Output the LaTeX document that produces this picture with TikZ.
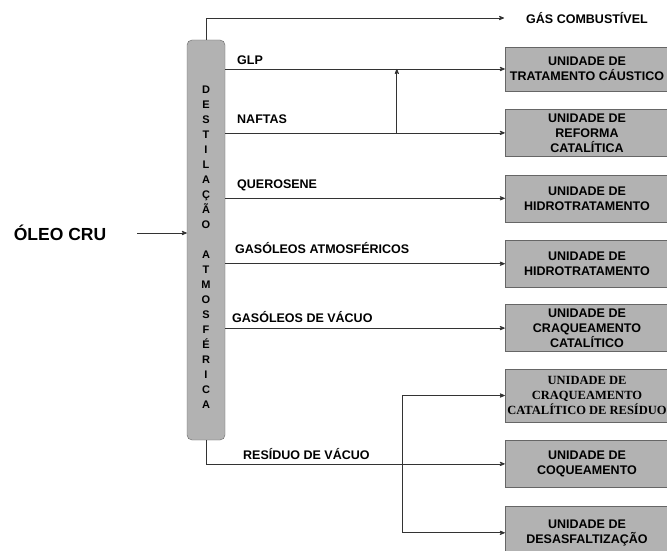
\documentclass[tikz,border=0pt]{standalone}
\usepackage{fontspec}
\setmainfont{Liberation Sans}
\newfontfamily\unitserif{Liberation Serif}
\usepackage{tikz}
\usetikzlibrary{arrows}
\usetikzlibrary{positioning}

\begin{document}
\begin{tikzpicture}[x=1pt,y=-1pt,>=stealth',node distance=18pt,
  unit node/.style={draw=black!60,fill=black!30,minimum width=164pt,minimum height=47pt,inner sep=0pt,align=center,font=\fontsize{12.5}{15}\selectfont\bfseries},
  column node/.style={draw=black!60,fill=black!30,rounded corners=5pt,minimum width=38pt,minimum height=400pt,inner sep=0pt},
  flow label/.style={anchor=base west,inner sep=0pt,font=\fontsize{12.5}{15}\selectfont\bfseries},
  flow/.style={->,draw=black!80,line width=0.8pt}]

  \clip (0,0) rectangle (667,551);

  \node[column node] (col) at (206,240) {};
  \node[inner sep=0pt,align=center,font=\fontsize{11}{15}\selectfont\bfseries] (colname) at (206,247)
    {D\\E\\S\\T\\I\\L\\A\\Ç\\Ã\\O\\[15pt]A\\T\\M\\O\\S\\F\\É\\R\\I\\C\\A};

  \node[inner sep=0pt,font=\fontsize{17.5}{20}\selectfont\bfseries] (oleo) at (60,233) {ÓLEO CRU};
  \node[inner sep=0pt,font=\fontsize{12.5}{15}\selectfont\bfseries] (gas) at (587,18) {GÁS COMBUSTÍVEL};

  \node[unit node,minimum height=44pt] (b1) at (587,69) {UNIDADE DE\\TRATAMENTO CÁUSTICO};
  \node[unit node] (b2) [below=of b1] {UNIDADE DE\\REFORMA\\CATALÍTICA};
  \node[unit node] (b3) [below=of b2] {UNIDADE DE\\HIDROTRATAMENTO};
  \node[unit node] (b4) [below=of b3] {UNIDADE DE\\HIDROTRATAMENTO};
  \node[unit node] (b5) [below=17pt of b4] {UNIDADE DE\\CRAQUEAMENTO\\CATALÍTICO};
  \node[unit node,minimum height=53pt,font=\fontsize{12.5}{15}\selectfont\bfseries\unitserif] (b6) [below=17pt of b5] {UNIDADE DE\\CRAQUEAMENTO\\CATALÍTICO DE RESÍDUO};
  \node[unit node] (b7) [below=of b6] {UNIDADE DE\\COQUEAMENTO};
  \node[unit node,minimum height=54pt] (b8) [below=of b7] {UNIDADE DE\\DESASFALTIZAÇÃO};

  % correntes da coluna
  \draw[flow,shorten >=22pt] (col.north) |- (gas.west);
  \draw[flow,shorten <=31pt] (oleo.east) -- (oleo.east -| col.west);
  \draw[flow] (col.east |- b1.west) -- (b1.west);
  \draw[flow] (col.east |- b2.west) -- (b2.west);
  \draw[flow] (col.east |- b3.west) -- (b3.west);
  \draw[flow] (col.east |- b4.west) -- (b4.west);
  \draw[flow] (col.east |- b5.west) -- (b5.west);
  \draw[flow] (col.south) |- (b7.west);

  \path (b2.west) ++(-108pt,0) coordinate (nup);
  \draw[flow] (nup) -- (nup |- b1.west);

  \path (b7.west) ++(-102pt,0) coordinate (split);
  \draw[flow] (split) |- (b6.west);
  \draw[flow] (split) |- (b8.west);

  \node[flow label] (glp) at (237,65) {GLP};
  \node[flow label] (naftas) at (237,124) {NAFTAS};
  \node[flow label] (querosene) at (237,188) {QUEROSENE};
  \node[flow label] (gasatm) at (235,253) {GASÓLEOS ATMOSFÉRICOS};
  \node[flow label] (gasvac) at (232,322) {GASÓLEOS DE VÁCUO};
  \node[flow label] (residuo) at (243,459) {RESÍDUO DE VÁCUO};

\end{tikzpicture}
\end{document}
